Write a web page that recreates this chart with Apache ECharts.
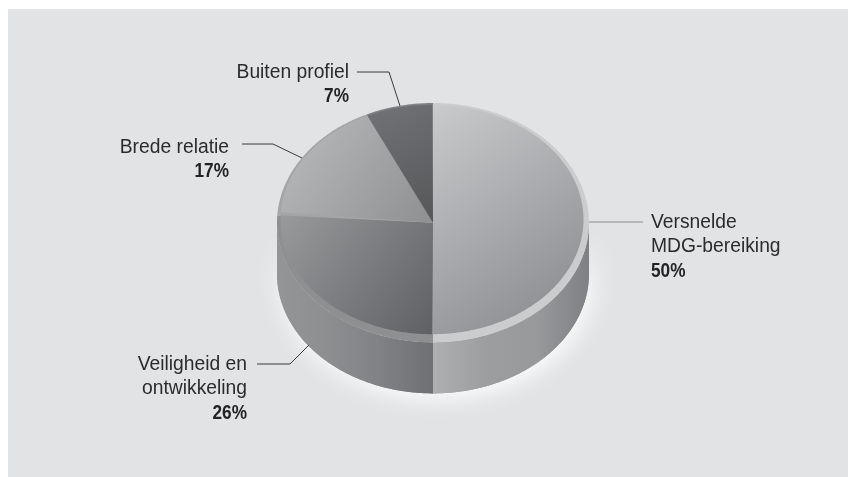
<!DOCTYPE html>
<html><head><meta charset="utf-8">
<style>html,body{margin:0;padding:0;background:#fff}#c{width:848px;height:477px}</style>
<script src="https://cdn.jsdelivr.net/npm/echarts@6/dist/echarts.min.js"></script>
</head><body><div id="c"></div>
<script>
const categories = ['Versnelde\nMDG-bereiking', 'Veiligheid en\nontwikkeling', 'Brede relatie', 'Buiten profiel'];
const values = [50, 26, 17, 7];

// Styling and layout (not data)
const outer = {cx: 433, cy: 222.7, rx: 156, ry: 119.7};
const inner = {cx: 432, cy: 219.5, rx: 151.5, ry: 114.7};
const apex = [433, 222.7];
const depth = 51;
const faceStops = [
  ['#c9cacc', '#86878a'], ['#98999b', '#5f6063'], ['#bbbcbe', '#8e8f91'], ['#727376', '#565759']
];
const faceBox = [[433,105,590,330],[280,222,433,334],[280,120,433,225],[365,105,433,222]];
const rimColors = ['#cbccce', '#8e8f91', '#a4a5a7', '#808184'];
const labelLayout = [
  {x: 651, align: 'left',  y: 222, line: [[589,222],[643,222]], lineColor: '#8a8b8d'},
  {x: 247, align: 'right', y: 364, line: [[257,364],[290,364],[309,345]], lineColor: '#3a3a3c'},
  {x: 229, align: 'right', y: 147, line: [[242,144],[273,144],[302,158]], lineColor: '#3a3a3c'},
  {x: 349, align: 'right', y: 72,  line: [[357,72],[389,72],[400,106]], lineColor: '#3a3a3c'}
];
const LH = 24.5;
const FONT = '"Liberation Sans",sans-serif';
const TEXT_SCALE = 0.94, BOLD_SCALE = 0.84, FONT_SIZE = 20.5;

const total = values.reduce((a, b) => a + b, 0);
const cum = [0];
values.forEach(v => cum.push(cum[cum.length - 1] + v));

function pt(e, t, dy) { return [e.cx + e.rx * Math.sin(t), e.cy - e.ry * Math.cos(t) + (dy || 0)]; }
function arc(e, a, b, dy) {
  const n = Math.max(2, Math.ceil(Math.abs(b - a) / 0.01)), out = [];
  for (let i = 0; i <= n; i++) out.push(pt(e, a + (b - a) * i / n, dy));
  return out;
}
function grad(x, y, x2, y2, stops) {
  return {type: 'linear', global: true, x, y, x2, y2,
    colorStops: stops.map((c, i) => ({offset: i / (stops.length - 1), color: c}))};
}
const wallFill = [
  grad(433, 0, 589, 0, ['#aeafb1', '#9d9ea0', '#98999b', '#7f8083']),
  grad(277, 0, 433, 0, ['#949597', '#8d8e90', '#808184', '#6f7073'])
];

function renderItem(params, api) {
  const i = params.dataIndex;
  const v = api.value(0);
  const a = cum[i] / total * 2 * Math.PI;
  const b = a + v / total * 2 * Math.PI;
  const children = [];
  // soft light glow behind the whole front wall, painted once and first
  if (i === 0) {
    const h = arc(outer, Math.PI / 2, 3 * Math.PI / 2, 0).concat(arc(outer, 3 * Math.PI / 2, Math.PI / 2, depth));
    children.push({type: 'polygon', shape: {points: h},
      style: {fill: '#999a9c', shadowBlur: 24, shadowColor: '#ffffff', shadowOffsetX: 4, shadowOffsetY: 4}});
  }
  // side wall (front half only)
  const wa = Math.max(a, Math.PI / 2), wb = Math.min(b, 3 * Math.PI / 2);
  if (wb > wa) {
    const pts = arc(outer, wa, wb, 0).concat(arc(outer, wb, wa, depth));
    children.push({type: 'polygon', shape: {points: pts}, style: {fill: wallFill[i]}});
  }
  return {type: 'group', children};
}

function renderTop(params, api) {
  const i = params.dataIndex;
  const v = api.value(0);
  const a = cum[i] / total * 2 * Math.PI;
  const b = a + v / total * 2 * Math.PI;
  const children = [];
  // rim
  children.push({type: 'polygon',
    shape: {points: [apex].concat(arc(outer, a, b, 0))}, style: {fill: rimColors[i]}});
  // face
  const fb = faceBox[i];
  children.push({type: 'polygon',
    shape: {points: [apex].concat(arc(inner, a, b, 0))},
    style: {fill: grad(fb[0], fb[1], fb[2], fb[3], faceStops[i])}});
  // leader
  const L = labelLayout[i];
  children.push({type: 'polyline', shape: {points: L.line},
    style: {fill: null, stroke: L.lineColor, lineWidth: 1}});
  // labels
  const lines = categories[i].split('\n');
  lines.forEach((s, k) => children.push({type: 'text', x: L.x, y: L.y + k * LH, scaleX: TEXT_SCALE,
    style: {x: 0, y: 0, text: s, align: L.align, verticalAlign: 'middle',
      font: FONT_SIZE + 'px ' + FONT, fill: '#2b2b2d'}}));
  children.push({type: 'text', x: L.x, y: L.y + lines.length * LH, scaleX: BOLD_SCALE,
    style: {x: 0, y: 0, text: v + '%', align: L.align, verticalAlign: 'middle',
      font: 'bold ' + FONT_SIZE + 'px ' + FONT, fill: '#232325'}});
  return {type: 'group', children};
}

const seriesData = values.map((v, i) => ({name: categories[i], value: [v]}));
const chart = echarts.init(document.getElementById('c'), null, {renderer: 'canvas'});
chart.setOption({
  backgroundColor: '#ffffff',
  animation: false,
  graphic: [{type: 'rect', z: -10, shape: {x: 8, y: 9, width: 840, height: 468}, style: {fill: '#e2e3e5'}}],
  series: [
    {type: 'custom', coordinateSystem: 'none', silent: true, z: 2, renderItem, encode: {value: 0}, data: seriesData},
    {type: 'custom', coordinateSystem: 'none', silent: true, z: 3, renderItem: renderTop, encode: {value: 0}, data: seriesData}
  ]
});
</script></body></html>
